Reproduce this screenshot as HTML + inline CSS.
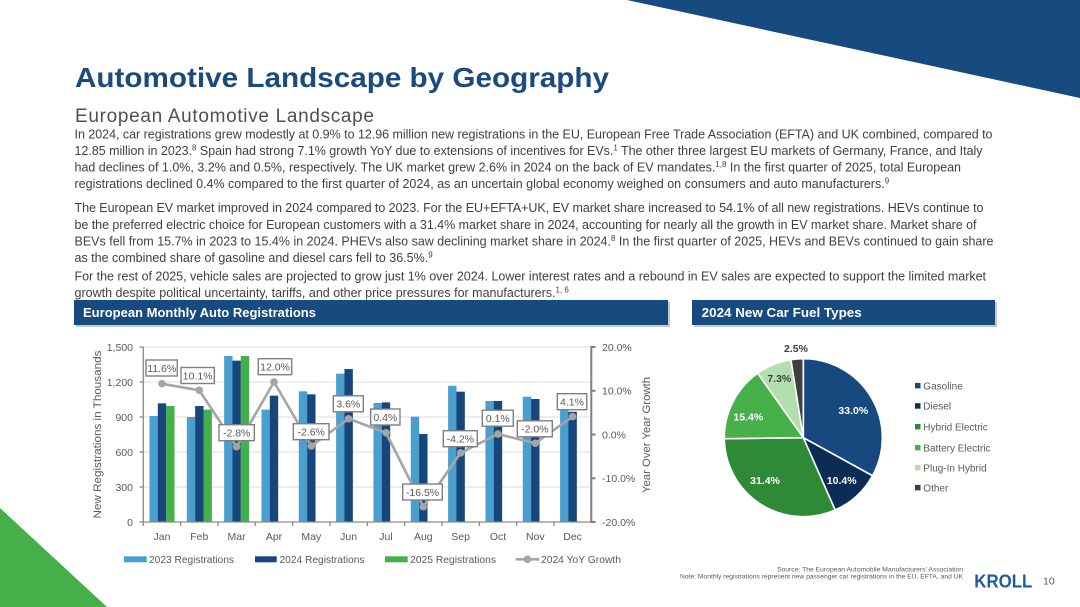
<!DOCTYPE html>
<html><head><meta charset="utf-8"><style>
html,body{margin:0;padding:0;background:#fff;}
svg{display:block;}
text{font-family:"Liberation Sans",Arial,sans-serif;}
</style></head><body>
<svg width="1080" height="607" viewBox="0 0 1080 607" xmlns="http://www.w3.org/2000/svg">
<rect width="1080" height="607" fill="#fff"/>
<polygon points="627,0 1080,0 1080,98" fill="#174a7e"/>
<polygon points="0,508 0,607 107,607" fill="#45b04a"/>

<text x="75" y="87" font-size="27.5" font-weight="bold" fill="#1b4a7f" textLength="534" lengthAdjust="spacingAndGlyphs">Automotive Landscape by Geography</text>
<text x="75" y="122" font-size="19" fill="#505050" textLength="299" lengthAdjust="spacing">European Automotive Landscape</text>

<g font-size="12.5" fill="#404040">
<text x="74.5" y="138.5" textLength="918" lengthAdjust="spacing">In 2024, car registrations grew modestly at 0.9% to 12.96 million new registrations in the EU, European Free Trade Association (EFTA) and UK combined, compared to</text>
<text x="74.5" y="155" textLength="908" lengthAdjust="spacing">12.85 million in 2023.<tspan dy="-4.5" font-size="8">8</tspan><tspan dy="4.5"> Spain had strong 7.1% growth YoY due to extensions of incentives for EVs.</tspan><tspan dy="-4.5" font-size="8">1</tspan><tspan dy="4.5"> The other three largest EU markets of Germany, France, and Italy</tspan></text>
<text x="74.5" y="171.5" textLength="886.5" lengthAdjust="spacing">had declines of 1.0%, 3.2% and 0.5%, respectively. The UK market grew 2.6% in 2024 on the back of EV mandates.<tspan dy="-4.5" font-size="8">1,8</tspan><tspan dy="4.5"> In the first quarter of 2025, total European</tspan></text>
<text x="74.5" y="188">registrations declined 0.4% compared to the first quarter of 2024, as an uncertain global economy weighed on consumers and auto manufacturers.<tspan dy="-4.5" font-size="8">9</tspan></text>

<text x="74.5" y="212" textLength="909" lengthAdjust="spacing">The European EV market improved in 2024 compared to 2023. For the EU+EFTA+UK, EV market share increased to 54.1% of all new registrations. HEVs continue to</text>
<text x="74.5" y="229" textLength="902" lengthAdjust="spacing">be the preferred electric choice for European customers with a 31.4% market share in 2024, accounting for nearly all the growth in EV market share. Market share of</text>
<text x="74.5" y="245.5" textLength="919" lengthAdjust="spacing">BEVs fell from 15.7% in 2023 to 15.4% in 2024. PHEVs also saw declining market share in 2024.<tspan dy="-4.5" font-size="8">8</tspan><tspan dy="4.5"> In the first quarter of 2025, HEVs and BEVs continued to gain share</tspan></text>
<text x="74.5" y="262">as the combined share of gasoline and diesel cars fell to 36.5%.<tspan dy="-4.5" font-size="8">9</tspan></text>

<text x="74.5" y="280.5" textLength="911.5" lengthAdjust="spacing">For the rest of 2025, vehicle sales are projected to grow just 1% over 2024. Lower interest rates and a rebound in EV sales are expected to support the limited market</text>
<text x="74.5" y="297">growth despite political uncertainty, tariffs, and other price pressures for manufacturers.<tspan dy="-4.5" font-size="8">1, 6</tspan></text>
</g>

<!-- Header bars -->
<rect x="76" y="302" width="594" height="25" fill="#9aa5b3" opacity="0.6"/>
<rect x="74" y="300" width="594" height="25" fill="#174a7e"/>
<text x="83" y="317" font-size="12.5" font-weight="bold" fill="#fff" textLength="233" lengthAdjust="spacingAndGlyphs">European Monthly Auto Registrations</text>
<rect x="694" y="302" width="303" height="25" fill="#9aa5b3" opacity="0.6"/>
<rect x="692" y="300" width="303" height="25" fill="#174a7e"/>
<text x="701.7" y="317" font-size="12.5" font-weight="bold" fill="#fff" textLength="160" lengthAdjust="spacingAndGlyphs">2024 New Car Fuel Types</text>

<!-- Gridlines -->
<g stroke="#dedede" stroke-width="1">
<line x1="143.3" y1="347" x2="591.3" y2="347"/>
<line x1="143.3" y1="382" x2="591.3" y2="382"/>
<line x1="143.3" y1="417" x2="591.3" y2="417"/>
<line x1="143.3" y1="452" x2="591.3" y2="452"/>
<line x1="143.3" y1="487" x2="591.3" y2="487"/>
</g>

<!-- Bars 2023 -->
<g fill="#4a9fcf">
<rect x="149.47" y="415.95" width="8.4" height="106.05"/>
<rect x="186.8" y="417" width="8.4" height="105"/>
<rect x="224.13" y="355.98" width="8.4" height="166.02"/>
<rect x="261.46" y="409.65" width="8.4" height="112.35"/>
<rect x="298.79" y="391.33" width="8.4" height="130.67"/>
<rect x="336.12" y="373.71" width="8.4" height="148.29"/>
<rect x="373.45" y="403" width="8.4" height="119"/>
<rect x="410.78" y="416.65" width="8.4" height="105.35"/>
<rect x="448.11" y="385.73" width="8.4" height="136.27"/>
<rect x="485.44" y="401.01" width="8.4" height="120.99"/>
<rect x="522.77" y="396.7" width="8.4" height="125.3"/>
<rect x="560.1" y="410" width="8.4" height="112"/>
</g>
<!-- Bars 2024 -->
<g fill="#17457c">
<rect x="157.8" y="403.35" width="8.4" height="118.65"/>
<rect x="195.13" y="406.03" width="8.4" height="115.97"/>
<rect x="232.46" y="360.65" width="8.4" height="161.35"/>
<rect x="269.79" y="395.65" width="8.4" height="126.35"/>
<rect x="307.12" y="394.36" width="8.4" height="127.64"/>
<rect x="344.45" y="369.05" width="8.4" height="152.95"/>
<rect x="381.78" y="402.42" width="8.4" height="119.58"/>
<rect x="419.11" y="434.03" width="8.4" height="87.97"/>
<rect x="456.44" y="391.68" width="8.4" height="130.32"/>
<rect x="493.77" y="401.01" width="8.4" height="120.99"/>
<rect x="531.1" y="399.03" width="8.4" height="122.97"/>
<rect x="568.43" y="411.75" width="8.4" height="110.25"/>
</g>
<!-- Bars 2025 -->
<g fill="#44b049">
<rect x="166.13" y="406.03" width="8.4" height="115.97"/>
<rect x="203.46" y="409.65" width="8.4" height="112.35"/>
<rect x="240.79" y="355.98" width="8.4" height="166.02"/>
</g>

<!-- Axes -->
<g stroke="#8a8a8a" stroke-width="1.3">
<line x1="143.3" y1="347" x2="143.3" y2="522"/>
<line x1="143.3" y1="522" x2="591.3" y2="522"/>
<line x1="139.5" y1="347" x2="143.3" y2="347"/>
<line x1="139.5" y1="382" x2="143.3" y2="382"/>
<line x1="139.5" y1="417" x2="143.3" y2="417"/>
<line x1="139.5" y1="452" x2="143.3" y2="452"/>
<line x1="139.5" y1="487" x2="143.3" y2="487"/>
<line x1="139.5" y1="522" x2="143.3" y2="522"/>
<line x1="143.3" y1="522" x2="143.3" y2="526"/>
<line x1="180.63" y1="522" x2="180.63" y2="526"/>
<line x1="217.96" y1="522" x2="217.96" y2="526"/>
<line x1="255.29" y1="522" x2="255.29" y2="526"/>
<line x1="292.62" y1="522" x2="292.62" y2="526"/>
<line x1="329.95" y1="522" x2="329.95" y2="526"/>
<line x1="367.28" y1="522" x2="367.28" y2="526"/>
<line x1="404.61" y1="522" x2="404.61" y2="526"/>
<line x1="441.94" y1="522" x2="441.94" y2="526"/>
<line x1="479.27" y1="522" x2="479.27" y2="526"/>
<line x1="516.6" y1="522" x2="516.6" y2="526"/>
<line x1="553.93" y1="522" x2="553.93" y2="526"/>
</g>
<g stroke="#7f7f7f" stroke-width="2">
<line x1="591.3" y1="346" x2="591.3" y2="523"/>
<line x1="591.3" y1="347" x2="595.5" y2="347"/>
<line x1="591.3" y1="390.75" x2="595.5" y2="390.75"/>
<line x1="591.3" y1="434.5" x2="595.5" y2="434.5"/>
<line x1="591.3" y1="478.25" x2="595.5" y2="478.25"/>
<line x1="591.3" y1="522" x2="595.5" y2="522"/>
</g>

<!-- Axis labels -->
<g font-size="10.5" fill="#595959" text-anchor="end">
<text x="133" y="350.8">1,500</text>
<text x="133" y="385.8">1,200</text>
<text x="133" y="420.8">900</text>
<text x="133" y="455.8">600</text>
<text x="133" y="490.8">300</text>
<text x="133" y="525.8">0</text>
</g>
<g font-size="10.5" fill="#595959">
<text x="602" y="350.8">20.0%</text>
<text x="602" y="394.5">10.0%</text>
<text x="602" y="438.3">0.0%</text>
<text x="602" y="482">-10.0%</text>
<text x="602" y="525.8">-20.0%</text>
</g>
<g font-size="10.5" fill="#595959" text-anchor="middle">
<text x="162" y="540">Jan</text>
<text x="199.3" y="540">Feb</text>
<text x="236.6" y="540">Mar</text>
<text x="274" y="540">Apr</text>
<text x="311.3" y="540">May</text>
<text x="348.6" y="540">Jun</text>
<text x="386" y="540">Jul</text>
<text x="423.3" y="540">Aug</text>
<text x="460.6" y="540">Sep</text>
<text x="498" y="540">Oct</text>
<text x="535.3" y="540">Nov</text>
<text x="572.6" y="540">Dec</text>
</g>
<text transform="translate(101,434.5) rotate(-90)" font-size="11" fill="#595959" text-anchor="middle" textLength="168" lengthAdjust="spacingAndGlyphs">New Registrations in Thousands</text>
<text transform="translate(650,435) rotate(-90)" font-size="11" fill="#595959" text-anchor="middle" textLength="116" lengthAdjust="spacingAndGlyphs">Year Over Year Growth</text>

<!-- YoY line -->
<polyline fill="none" stroke="#a5a5a5" stroke-width="2.6" stroke-linejoin="round"
points="162,383.75 199.3,390.3 236.6,446.75 274,382 311.3,445.9 348.6,418.75 386,432.75 423.3,506.7 460.6,452.9 498,434.1 535.3,443.25 572.6,416.6"/>
<g fill="#a5a5a5">
<circle cx="162" cy="383.75" r="3.8"/>
<circle cx="199.3" cy="390.3" r="3.8"/>
<circle cx="236.6" cy="446.75" r="3.8"/>
<circle cx="274" cy="382" r="3.8"/>
<circle cx="311.3" cy="445.9" r="3.8"/>
<circle cx="348.6" cy="418.75" r="3.8"/>
<circle cx="386" cy="432.75" r="3.8"/>
<circle cx="423.3" cy="506.7" r="3.8"/>
<circle cx="460.6" cy="452.9" r="3.8"/>
<circle cx="498" cy="434.1" r="3.8"/>
<circle cx="535.3" cy="443.25" r="3.8"/>
<circle cx="572.6" cy="416.6" r="3.8"/>
</g>

<!-- Data labels -->
<g fill="#fff" stroke="#7f7f7f" stroke-width="1.4">
<rect x="146" y="360" width="31.3" height="16"/>
<rect x="181" y="367.5" width="33.3" height="16"/>
<rect x="219" y="424.7" width="35.3" height="16"/>
<rect x="258.3" y="358.7" width="33.4" height="16"/>
<rect x="293.3" y="423.7" width="35.7" height="16"/>
<rect x="333.3" y="395.8" width="30" height="16"/>
<rect x="370.7" y="409" width="29.3" height="16"/>
<rect x="402.7" y="484" width="39.6" height="16"/>
<rect x="443.3" y="430.7" width="34" height="16"/>
<rect x="482.3" y="410.2" width="31" height="16"/>
<rect x="517.3" y="420.8" width="35" height="16"/>
<rect x="557.3" y="393.7" width="29.4" height="16"/>
</g>
<g font-size="10.5" fill="#595959" text-anchor="middle">
<text x="161.7" y="371.8">11.6%</text>
<text x="197.7" y="379.3">10.1%</text>
<text x="236.7" y="436.5">-2.8%</text>
<text x="275" y="370.5">12.0%</text>
<text x="311.2" y="435.5">-2.6%</text>
<text x="348.3" y="407.6">3.6%</text>
<text x="385.3" y="420.8">0.4%</text>
<text x="422.5" y="495.8">-16.5%</text>
<text x="460.3" y="442.5">-4.2%</text>
<text x="497.8" y="422">0.1%</text>
<text x="534.8" y="432.6">-2.0%</text>
<text x="572" y="405.5">4.1%</text>
</g>

<!-- Legend -->
<rect x="124" y="556.3" width="22.7" height="6" fill="#4a9fcf"/>
<rect x="255" y="556.3" width="21.7" height="6" fill="#17457c"/>
<rect x="385" y="556.3" width="22.7" height="6" fill="#44b049"/>
<line x1="515.7" y1="559.3" x2="539.3" y2="559.3" stroke="#a5a5a5" stroke-width="2.6"/>
<circle cx="527.5" cy="559.3" r="3.8" fill="#a5a5a5"/>
<g font-size="10.2" fill="#595959">
<text x="149" y="563" textLength="85" lengthAdjust="spacingAndGlyphs">2023 Registrations</text>
<text x="279.5" y="563" textLength="85" lengthAdjust="spacingAndGlyphs">2024 Registrations</text>
<text x="410" y="563" textLength="86" lengthAdjust="spacingAndGlyphs">2025 Registrations</text>
<text x="541" y="563" textLength="80" lengthAdjust="spacingAndGlyphs">2024 YoY Growth</text>
</g>

<!-- Pie -->
<g stroke="#fff" stroke-width="1.6" stroke-linejoin="round">
<path d="M803.3,437.7 L803.3,358.7 A79,79 0 0 1 872.53,475.76 Z" fill="#17497f"/>
<path d="M803.3,437.7 L872.53,475.76 A79,79 0 0 1 835.13,510 Z" fill="#0b2d55"/>
<path d="M803.3,437.7 L835.13,510 A79,79 0 0 1 724.31,438.69 Z" fill="#2f8a38"/>
<path d="M803.3,437.7 L724.31,438.69 A79,79 0 0 1 757.67,373.21 Z" fill="#47b04b"/>
<path d="M803.3,437.7 L757.67,373.21 A79,79 0 0 1 790.94,359.67 Z" fill="#b3dfae"/>
<path d="M803.3,437.7 L790.94,359.67 A79,79 0 0 1 803.3,358.7 Z" fill="#3f3f3f"/>
</g>
<g font-size="10.5" font-weight="bold" text-anchor="middle">
<text x="853.3" y="413.8" fill="#fff">33.0%</text>
<text x="841.7" y="483.8" fill="#fff">10.4%</text>
<text x="765" y="483.8" fill="#fff">31.4%</text>
<text x="748.3" y="420.5" fill="#fff">15.4%</text>
<text x="779.3" y="382" fill="#404040">7.3%</text>
<text x="796" y="352" fill="#404040">2.5%</text>
</g>
<rect x="915" y="382.9" width="5.5" height="5.5" fill="#17497f"/>
<rect x="915" y="403.2" width="5.5" height="5.5" fill="#0b2d55"/>
<rect x="915" y="423.9" width="5.5" height="5.5" fill="#2f8a38"/>
<rect x="915" y="444.9" width="5.5" height="5.5" fill="#47b04b"/>
<rect x="915" y="464.9" width="5.5" height="5.5" fill="#b3dfae"/>
<rect x="915" y="484.9" width="5.5" height="5.5" fill="#3f3f3f"/>
<g font-size="10" fill="#595959">
<text x="923.3" y="389.3">Gasoline</text>
<text x="923.3" y="409.6">Diesel</text>
<text x="923.3" y="430.3">Hybrid Electric</text>
<text x="923.3" y="451.3">Battery Electric</text>
<text x="923.3" y="471.3">Plug-In Hybrid</text>
<text x="923.3" y="491.3">Other</text>
</g>

<!-- Footer -->
<g font-size="6.5" fill="#595959">
<text x="777" y="571.5" textLength="186" lengthAdjust="spacingAndGlyphs">Source: The European Automobile Manufacturers' Association</text>
<text x="680" y="578.5" textLength="283" lengthAdjust="spacingAndGlyphs">Note: Monthly registrations represent new passenger car registrations in the EU, EFTA, and UK</text>
</g>
<text x="974.3" y="587.3" font-size="18" font-weight="bold" fill="#1f5a9e" textLength="58" lengthAdjust="spacingAndGlyphs">KROLL</text>
<text x="1043" y="584.3" font-size="10.5" fill="#595959">10</text>
</svg>
</body></html>
